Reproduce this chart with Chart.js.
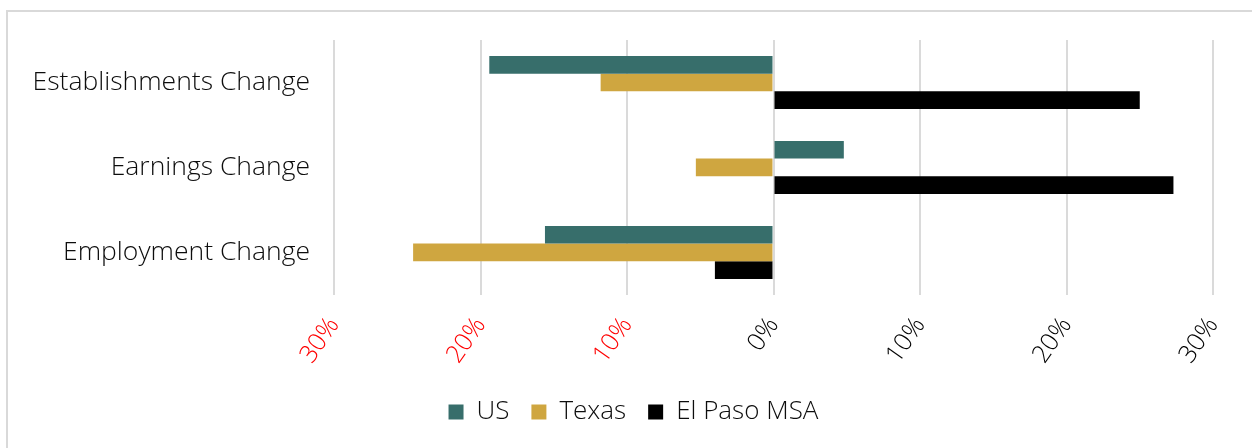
<!DOCTYPE html>
<html>
<head>
<meta charset="utf-8">
<script src="https://cdn.jsdelivr.net/npm/chart.js@4/dist/chart.umd.min.js"></script>
<style>
  html, body { margin: 0; padding: 0; background: #fff; overflow: hidden; }
  #wrap { position: relative; width: 1252px; height: 448px; }
  #frame { position: absolute; left: 6px; top: 10px; width: 1300px; height: 500px;
           border-top: 2px solid #d9d9d9; border-left: 2px solid #d9d9d9; box-sizing: border-box; }
  #c { position: absolute; left: 0; top: 0; }
</style>
</head>
<body>
<div id="wrap">
  <div id="frame"></div>
  <canvas id="c" width="1252" height="448"></canvas>
</div>
<script>
// Percent change by measure, for each geography
const categories = ['Establishments Change', 'Earnings Change', 'Employment Change'];
const usValues = [-19.4, 4.8, -15.6];
const texasValues = [-11.8, -5.3, -24.6];
const elPasoValues = [25.0, 27.3, -4.0];
const tickValues = [-30, -20, -10, 0, 10, 20, 30];

const FONT = '"Open Sans"';
const WEIGHT = 300;

// Nudges the bottom legend so it sits centred under the whole figure
const legendShift = {
  id: 'legendShift',
  afterLayout(chart) {
    const lg = chart.legend;
    if (lg) { lg.left += 27; lg.right += 27; }
  }
};

new Chart(document.getElementById('c'), {
  type: 'bar',
  data: {
    labels: categories,
    datasets: [
      { label: 'US', data: usValues, backgroundColor: '#376e6b' },
      { label: 'Texas', data: texasValues, backgroundColor: '#cfa640' },
      { label: 'El Paso MSA', data: elPasoValues, backgroundColor: '#000000' }
    ]
  },
  plugins: [legendShift],
  options: {
    indexAxis: 'y',
    responsive: false,
    animation: false,
    layout: { padding: { top: 40, right: 39, left: 0, bottom: 13 } },
    datasets: { bar: { categoryPercentage: 0.624, barPercentage: 1.0 } },
    scales: {
      x: {
        min: -30, max: 30,
        afterBuildTicks: (axis) => { axis.ticks = tickValues.map(v => ({ value: v })); },
        afterFit: (axis) => {
          axis.height -= 9;
          axis.paddingRight = 0;
          axis.paddingLeft = 0;
        },
        grid: { color: '#dadada', lineWidth: 2, drawTicks: false },
        border: { display: false },
        ticks: {
          padding: 17,
          minRotation: 55, maxRotation: 55,
          font: { family: FONT, size: 25, weight: WEIGHT },
          color: (ctx) => (ctx.tick && ctx.tick.value < 0 ? '#ff0000' : '#000000'),
          callback: (v) => Math.abs(v) + '%'
        }
      },
      y: {
        grid: { display: false, drawTicks: false },
        border: { display: false },
        afterFit: (axis) => { axis.width = 334; },
        ticks: {
          padding: 24,
          font: { family: FONT, size: 26.5, weight: WEIGHT },
          color: '#0d0d0d'
        }
      }
    },
    plugins: {
      legend: {
        position: 'bottom',
        labels: {
          boxWidth: 15, boxHeight: 15, padding: 22,
          font: { family: FONT, size: 26, weight: WEIGHT },
          color: '#0d0d0d'
        }
      },
      tooltip: { enabled: false }
    }
  }
});
</script>
</body>
</html>
